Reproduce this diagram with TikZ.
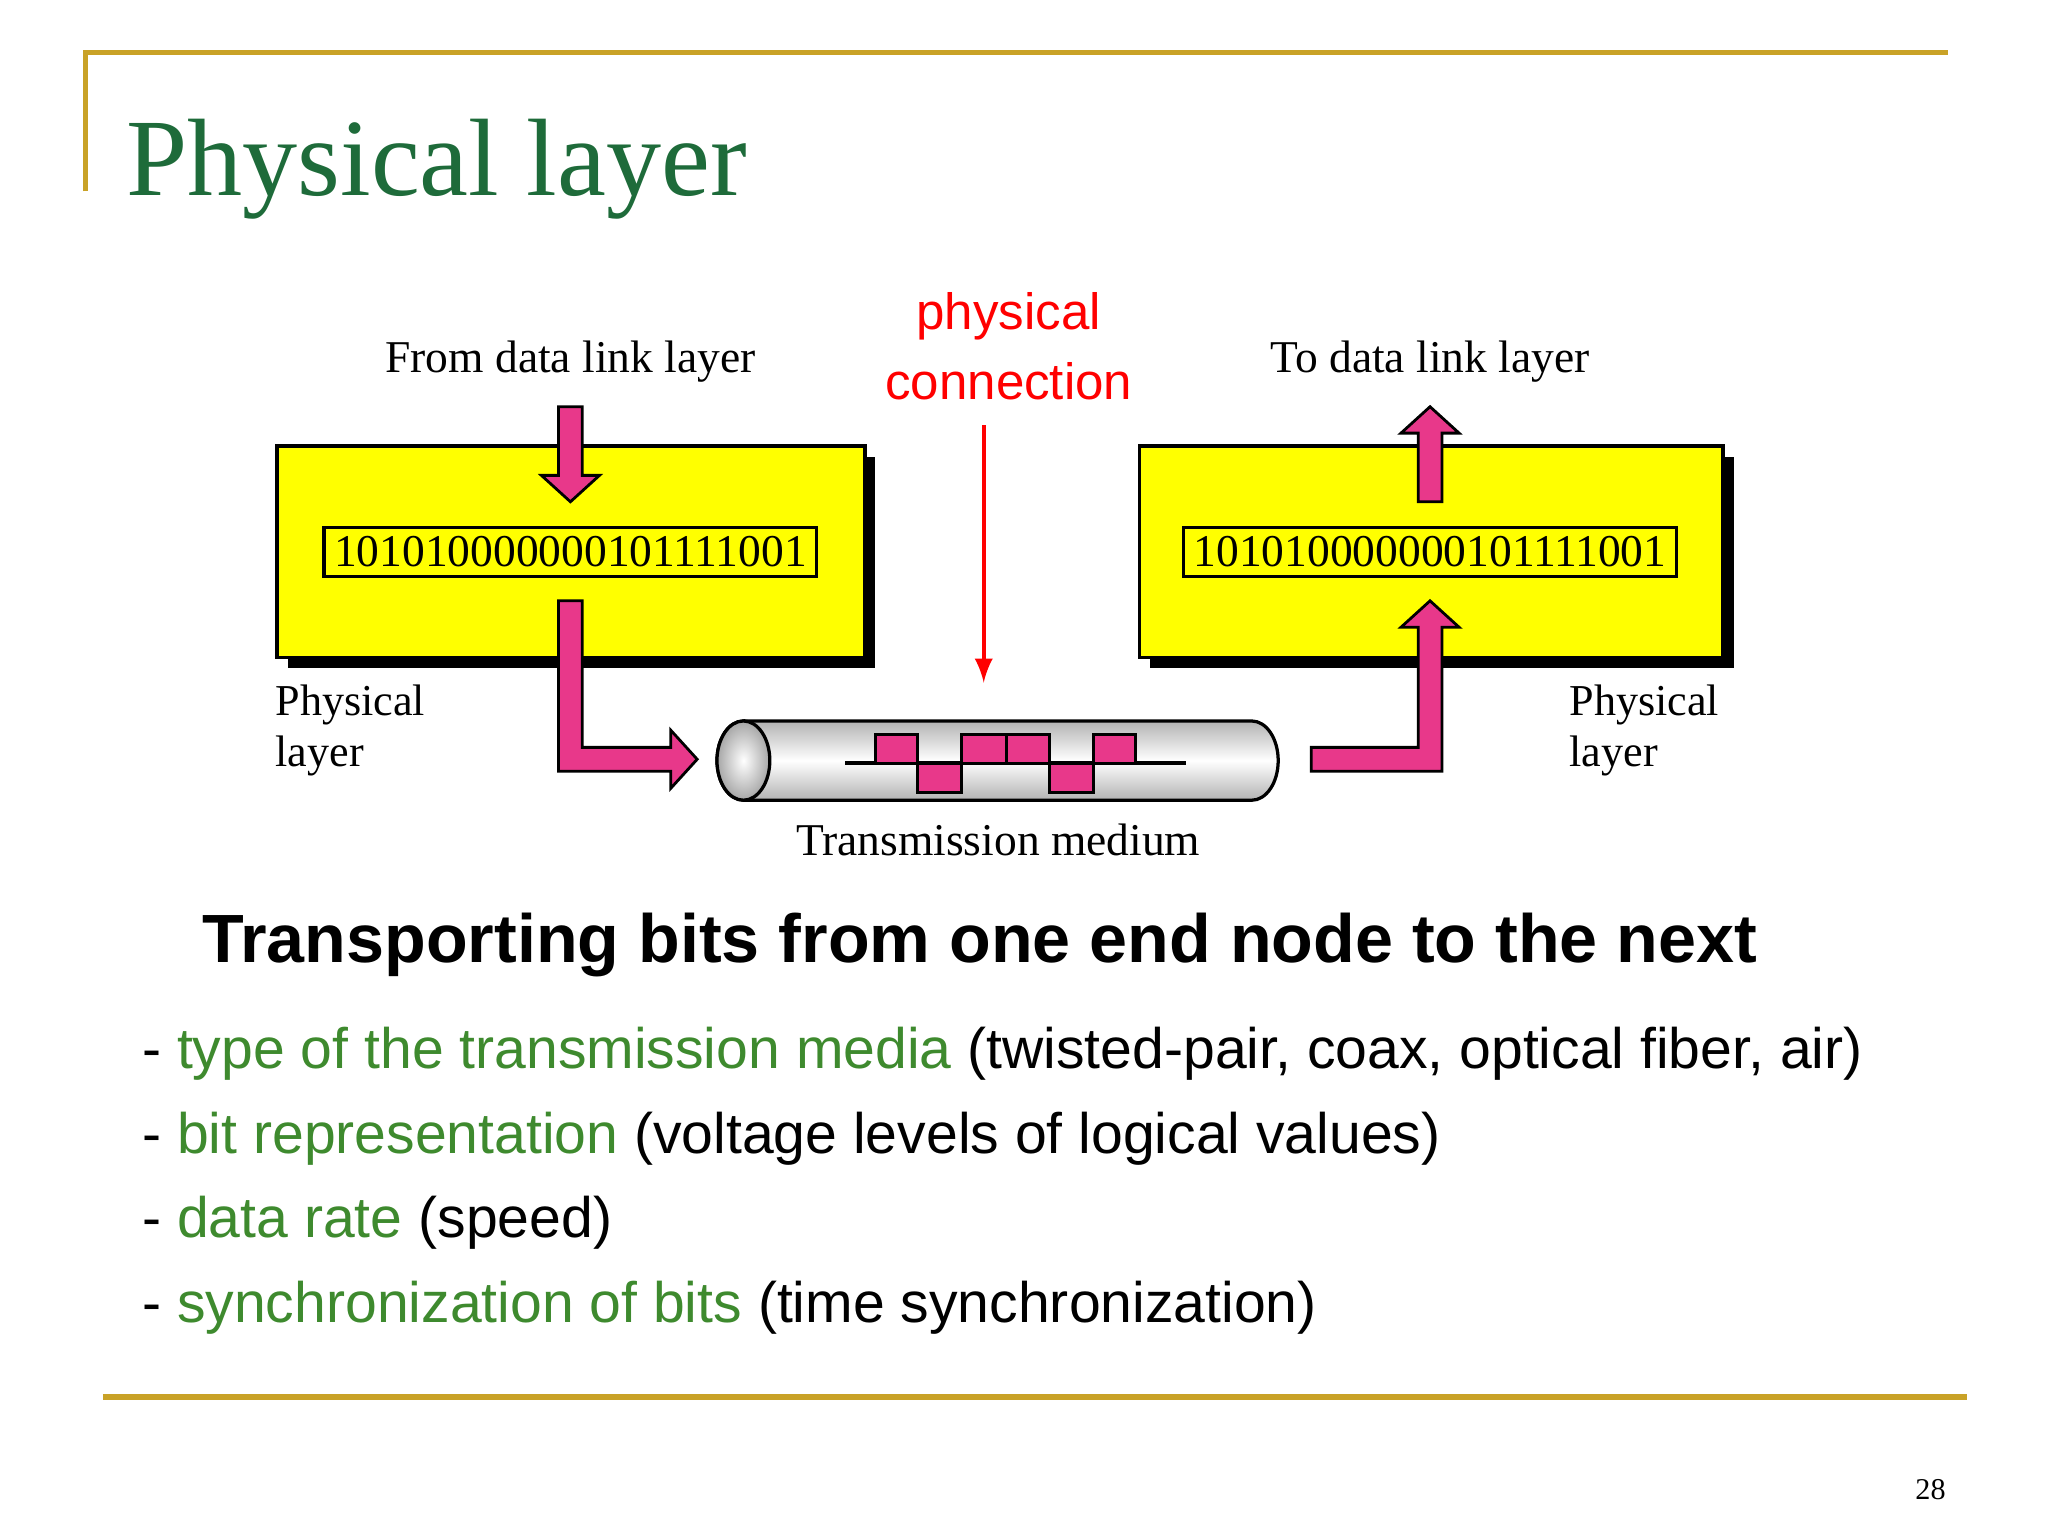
\documentclass[tikz,border=0pt]{standalone}
\usepackage{fontspec}
\setmainfont{Liberation Serif}
\newfontfamily\sansf{Liberation Sans}
\definecolor{gold}{HTML}{C9A227}
\definecolor{titlegreen}{HTML}{1E6B3A}
\definecolor{bulgreen}{HTML}{3E8A2E}
\definecolor{pinkarr}{HTML}{E8388A}
\definecolor{boxyellow}{HTML}{FFFF00}
\begin{document}
\begin{tikzpicture}[x=0.01cm,y=-0.01cm,
    rule/.style={gold, line width=1.1pt},
    serlab/.style={font=\fontsize{9.8}{11}\selectfont, inner sep=0pt},
    bits/.style={draw, line width=0.7pt, font=\fontsize{9.8}{12}\selectfont, inner sep=0pt, minimum width=3.73cm, minimum height=0.37cm},
    ybox/.style={draw, line width=0.8pt, fill=boxyellow},
    shadow/.style={fill=black},
    blockarr/.style={fill=pinkarr, draw=black, line width=0.6pt},
    bullet/.style={anchor=west, inner sep=0pt, font=\sansf\fontsize{12.3}{15}\selectfont},
    sq/.style={fill=pinkarr, draw=black, line width=0.6pt}
    ]
    \useasboundingbox (0,0) rectangle (1551,1163);

    % frame rules
    \draw[rule] (65,145) -- (65,40) -- (1475,40);
    \draw[rule] (78,1058) -- (1490,1058);

    % title
    \node[anchor=base west, inner sep=0pt, text=titlegreen, font=\fontsize{23.7}{28}\selectfont] (title) at (95,148) {Physical layer};

    % yellow boxes with shadows
    \fill[shadow] (218,346) rectangle (663,506);
    \draw[ybox] (210,338) rectangle (655,498);
    \fill[shadow] (871,346) rectangle (1313,506);
    \draw[ybox] (863,338) rectangle (1305,498);

    \node[bits] (bitsL) at (432,418) {101010000000101111001};
    \node[bits] (bitsR) at (1083,418) {101010000000101111001};

    % labels
    \node[serlab] (from) at (432,274) {From data link layer};
    \node[serlab] (to) at (1083,274) {To data link layer};
    \node[serlab, anchor=north west, align=left, font=\fontsize{9.5}{11}\selectfont] (physL) at (208,518) {Physical\\layer};
    \node[serlab, anchor=north west, align=left, font=\fontsize{9.5}{11}\selectfont] (physR) at (1188,518) {Physical\\layer};
    \node[serlab] (medium) at (756,636) {Transmission medium};

    % physical connection
    \node[text=red, align=center, font=\sansf\fontsize{11}{15}\selectfont, inner sep=0pt] (pc) at (764,262) {physical\\connection};
    \coordinate (pcs) at (745,322);
    \coordinate (pce) at (745,517);
    \draw[red, line width=0.8pt, -latex] (pcs) -- (pce);

    % block arrows
    \draw[blockarr] (423,308) -- (441,308) -- (441,360) -- (454,360) -- (432,380) -- (410,360) -- (423,360) -- cycle;
    \draw[blockarr] (1074,380) -- (1092,380) -- (1092,328) -- (1105,328) -- (1083,308) -- (1061,328) -- (1074,328) -- cycle;
    \draw[blockarr] (423,455) -- (441,455) -- (441,566) -- (508,566) -- (508,553) -- (528,575) -- (508,597) -- (508,584) -- (423,584) -- cycle;
    \draw[blockarr] (993,566) -- (1074,566) -- (1074,475) -- (1061,475) -- (1083,455) -- (1105,475) -- (1092,475) -- (1092,584) -- (993,584) -- cycle;

    % tube
    \shade[top color=gray!60, bottom color=gray!60, middle color=white, draw=black, line width=0.7pt]
      (563,546) -- (948,546) arc[start angle=90, end angle=-90, x radius=0.2cm, y radius=0.3cm] -- (563,606) arc[start angle=270, end angle=90, x radius=0.2cm, y radius=0.3cm] -- cycle;
    \shade[inner color=white, outer color=gray!70, draw=black, line width=0.7pt] (563,576) ellipse [x radius=0.2cm, y radius=0.3cm];

    % signal
    \draw[line width=0.8pt] (640,578) -- (898,578);
    \draw[sq] (663,556) rectangle (695,578);
    \draw[sq] (695,578) rectangle (728,600);
    \draw[sq] (728,556) rectangle (762,578);
    \draw[sq] (762,556) rectangle (795,578);
    \draw[sq] (795,578) rectangle (828,600);
    \draw[sq] (828,556) rectangle (860,578);

    % heading and bullets
    \node[inner sep=0pt, font=\sansf\bfseries\fontsize{14.7}{17}\selectfont] (head) at (742,716) {Transporting bits from one end node to the next};
    \node[bullet] (b1) at (107,798) {- \textcolor{bulgreen}{type of the transmission media} (twisted-pair, coax, optical fiber, air)};
    \node[bullet] (b2) at (107,862) {- \textcolor{bulgreen}{bit representation} (voltage levels of logical values)};
    \node[bullet] (b3) at (107,926) {- \textcolor{bulgreen}{data rate} (speed)};
    \node[bullet] (b4) at (107,990) {- \textcolor{bulgreen}{synchronization of bits} (time synchronization)};

    \node[inner sep=0pt, font=\fontsize{6.5}{8}\selectfont] (pg) at (1462,1128) {28};
\end{tikzpicture}
\end{document}
